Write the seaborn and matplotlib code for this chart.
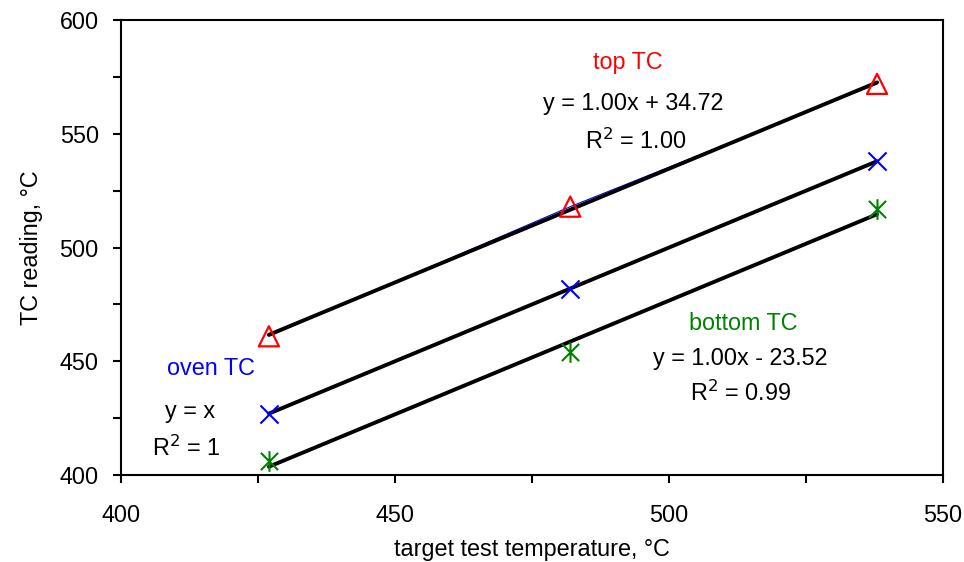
import numpy as np
import pandas as pd
import matplotlib
matplotlib.use("Agg")
import matplotlib.pyplot as plt
from matplotlib.path import Path
from matplotlib.ticker import MultipleLocator
import seaborn as sns

target = [427, 482, 538]
oven_tc = [427, 482, 538]
top_tc = [461, 518, 572]
bottom_tc = [406, 454, 517]

df = pd.DataFrame({"target": target, "oven": oven_tc, "top": top_tc, "bottom": bottom_tc})

sns.set_style("white")
plt.rcParams["font.family"] = ["Liberation Sans", "DejaVu Sans"]

fig = plt.figure(figsize=(9.64, 5.62), dpi=100)
ax = fig.add_axes([0.1255, 0.1548, 0.978 - 0.1255, 0.964 - 0.1548])

star = Path([(-1, -1), (1, 1), (-1, 1), (1, -1), (0, -1.2), (0, 1.2)],
            [Path.MOVETO, Path.LINETO, Path.MOVETO, Path.LINETO, Path.MOVETO, Path.LINETO])

# thin blue connecting line under top regression
sns.lineplot(data=df, x="target", y="top", color="#0000FF", lw=0.8, ax=ax, zorder=2)

sns.regplot(data=df, x="target", y="top", ci=None, ax=ax, marker="^",
            scatter_kws=dict(s=210, facecolors="none", edgecolors="#FF0000", linewidths=1.6, alpha=1, zorder=4),
            line_kws=dict(color="black", lw=2.8, zorder=3))
sns.regplot(data=df, x="target", y="oven", ci=None, ax=ax, marker="x",
            scatter_kws=dict(s=170, color="#0000FF", linewidths=1.5, alpha=1, zorder=4),
            line_kws=dict(color="black", lw=2.8, zorder=3))
sns.regplot(data=df, x="target", y="bottom", ci=None, ax=ax, marker=star,
            scatter_kws=dict(s=220, color="#008000", linewidths=1.5, alpha=1, zorder=4),
            line_kws=dict(color="black", lw=2.8, zorder=3))

ax.set_xlim(400, 550)
ax.set_ylim(400, 600)
ax.xaxis.set_major_locator(MultipleLocator(50))
ax.xaxis.set_minor_locator(MultipleLocator(25))
ax.yaxis.set_major_locator(MultipleLocator(50))
ax.yaxis.set_minor_locator(MultipleLocator(25))
ax.tick_params(which="both", direction="out", length=6, width=1.5, color="black",
               bottom=True, left=True, top=False, right=False)
fs = 16.8
ax.tick_params(axis="x", which="major", labelsize=fs, labelcolor="black", pad=15)
ax.tick_params(axis="y", which="major", labelsize=fs, labelcolor="black", pad=10)
for sp in ax.spines.values():
    sp.set_visible(True)
    sp.set_color("black")
    sp.set_linewidth(1.5)

ax.set_xlabel("target test temperature, °C", fontsize=fs, color="black", labelpad=8)
ax.set_ylabel("TC reading, °C", fontsize=fs, color="black", labelpad=12)

ax.text(492.5, 581.5, "top TC", color="#FF0000", fontsize=fs, ha="center", va="center")
ax.text(493.4, 563.5, "y = 1.00x + 34.72", color="black", fontsize=fs, ha="center", va="center")
ax.text(494, 546.8, "R$^2$ = 1.00", color="black", fontsize=fs, ha="center", va="center")
ax.text(416.4, 447, "oven TC", color="#0000FF", fontsize=fs, ha="center", va="center")
ax.text(412.6, 428, "y = x", color="black", fontsize=fs, ha="center", va="center")
ax.text(412, 411.9, "R$^2$ = 1", color="black", fontsize=fs, ha="center", va="center")
ax.text(513.5, 466.8, "bottom TC", color="#008000", fontsize=fs, ha="center", va="center")
ax.text(513, 451.4, "y = 1.00x - 23.52", color="black", fontsize=fs, ha="center", va="center")
ax.text(513.1, 436, "R$^2$ = 0.99", color="black", fontsize=fs, ha="center", va="center")

fig.savefig("out.png", dpi=100)
